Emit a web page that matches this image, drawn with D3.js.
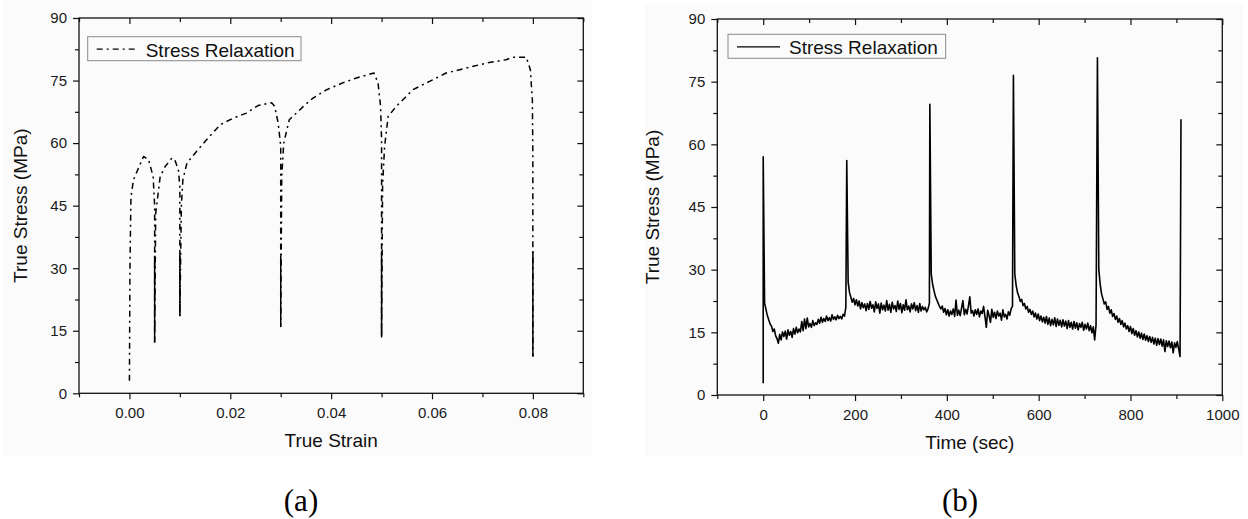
<!DOCTYPE html>
<html>
<head>
<meta charset="utf-8">
<script src="https://cdn.jsdelivr.net/npm/d3@7"></script>
<style>
  body { margin: 0; background: #fff; }
  text { font-family: "Liberation Sans", Arial, sans-serif; }
</style>
</head>
<body>
<svg id="fig" width="1248" height="519"></svg>
<script>
// ---- panel (a): stress vs strain ----
var strainA = [0, 0.0001, 0.0003, 0.0008, 0.0015, 0.0028, 0.0038, 0.0047, 0.005, 0.005,
  0.0052, 0.0061, 0.0071, 0.0084, 0.009, 0.0097, 0.01, 0.01, 0.0103, 0.0106,
  0.0114, 0.0133, 0.0153, 0.018, 0.0206, 0.0232, 0.0255, 0.0282, 0.0288, 0.0295,
  0.03, 0.03, 0.0302, 0.0306, 0.0317, 0.0331, 0.0345, 0.0364, 0.0391, 0.0424,
  0.045, 0.0473, 0.0485, 0.0493, 0.0498, 0.05, 0.05, 0.0502, 0.0506, 0.0513,
  0.0529, 0.0562, 0.0595, 0.0628, 0.0668, 0.0708, 0.0747, 0.076, 0.0787, 0.0795,
  0.0799, 0.08, 0.08]
var stressA = [3, 30, 47, 51.2, 53.2, 56.8, 56, 52, 45, 12.2,
  43, 52, 54.4, 56.4, 56, 53.6, 49.6, 18.5, 45, 51.2,
  55.2, 58, 60.8, 64.4, 66, 67.2, 69, 69.7, 68.8, 64.8,
  59.2, 16, 52, 60, 65.6, 67.2, 68.8, 70.8, 72.8, 74.5,
  75.6, 76.4, 76.8, 74.4, 68.8, 60.8, 13.4, 50, 59.2, 66.4,
  68.8, 72.8, 74.8, 76.8, 78, 79.2, 80, 80.6, 80.6, 77.6,
  70.4, 56, 8.8]
// relaxation holds: strain, lowest stress, top of the densely sampled part
var relaxStrain = [0.005, 0.01, 0.03, 0.05, 0.08]
var relaxLow = [12.2, 18.5, 16, 13.4, 8.8]
var relaxDenseTop = [33, 34, 33, 34, 34]

// ---- panel (b): stress vs time ----
var loadStart = [0, 2.8]          // first point before loading
var holdStart = [0, 182, 363, 545, 728]
var holdPeak = [57, 56.1, 69.6, 76.5, 80.7]
var sampleStep = 3                 // seconds between readings in a hold
var holdStress = [
  [22, 20.5, 19, 18, 17, 16.5, 15.2, 15.8, 14.2, 13.5,
   12.4, 14.5, 13.2, 15.1, 14, 15.3, 13.4, 15.6, 14.3, 15.2,
   13.8, 15.9, 14.6, 16.2, 14.9, 15.8, 15.1, 17.6, 15.4, 18.2,
   15.9, 18.4, 16.3, 17.1, 16.2, 17.8, 16.6, 17.3, 16.9, 18.1,
   17.2, 18.6, 17.4, 18.3, 17.6, 18.9, 17.8, 18.5, 17.7, 19.2,
   18.1, 18.7, 18.0, 19.1, 18.3, 18.8, 18.2, 19.3, 18.9, 21],
  [27, 24.5, 23.4, 22.2, 23.1, 21.6, 22.8, 21.3, 22.5, 20.6,
   22.1, 20.9, 21.8, 20.2, 21.9, 20.5, 22.4, 20.8, 21.6, 19.9,
   22.3, 20.7, 21.8, 19.6, 22.0, 20.4, 21.5, 20.1, 22.6, 20.3,
   21.7, 19.8, 22.2, 20.6, 21.4, 20.0, 22.5, 20.5, 21.9, 19.7,
   21.6, 20.3, 22.8, 20.4, 21.3, 19.9, 21.8, 20.6, 22.1, 20.2,
   21.4, 19.8, 21.9, 20.1, 21.2, 20.4, 21.0, 19.9, 20.6, 22],
  [29, 26.5, 25, 23.6, 22.8, 22.0, 21.2, 20.6, 21.3, 19.8,
   20.7, 19.2, 20.4, 18.9, 20.1, 19.3, 20.6, 18.8, 22.7, 19.1,
   20.3, 19.0, 20.8, 22.6, 19.2, 20.5, 19.4, 21.3, 23.5, 19.6,
   20.2, 18.9, 20.4, 19.3, 20.6, 18.7, 20.1, 19.5, 21.2, 18.8,
   16.2, 20.3, 19.0, 17.4, 20.5, 18.6, 19.8, 18.3, 20.1, 18.9,
   19.6, 17.9, 20.4, 18.7, 19.3, 18.2, 19.9, 19.1, 20.6, 21.3],
  [29, 26.2, 24.5, 23.6, 22.4, 22.9, 21.4, 21.9, 20.6, 21.2,
   19.8, 20.5, 19.3, 20.1, 18.7, 19.6, 18.2, 19.4, 17.8, 18.9,
   17.5, 18.6, 17.2, 18.8, 16.9, 18.4, 16.6, 18.1, 16.8, 18.5,
   16.4, 18.2, 16.7, 17.9, 16.3, 18.0, 16.5, 17.7, 15.9, 17.8,
   16.2, 17.4, 15.8, 17.6, 16.0, 17.3, 15.6, 17.1, 16.2, 17.4,
   15.5, 16.9, 15.8, 17.2, 15.4, 16.6, 14.9, 16.3, 13.2, 16.8],
  [30, 26.5, 24.2, 23.0, 21.8, 22.3, 20.5, 21.2, 19.6, 20.4,
   18.8, 19.5, 18.1, 18.9, 17.4, 18.3, 16.9, 17.8, 16.3, 17.2,
   15.8, 16.6, 15.2, 16.4, 14.7, 15.9, 14.3, 15.4, 13.9, 15.1,
   13.6, 14.8, 13.3, 14.6, 13.1, 14.2, 12.8, 14.0, 12.6, 13.8,
   12.2, 13.6, 11.9, 13.5, 12.1, 13.4, 11.7, 13.2, 10.4, 13.0,
   11.6, 12.9, 11.3, 12.7, 10.1, 12.5, 11.4, 12.8, 11.0, 9.2]
]
var finalPoint = [910, 66]

// ---- ticks ----
var stressTicks = [0, 15, 30, 45, 60, 75, 90]
var stressMinor = [7.5, 22.5, 37.5, 52.5, 67.5, 82.5]
var strainTicks = [0, 0.02, 0.04, 0.06, 0.08]
var strainMinor = [-0.01, 0.01, 0.03, 0.05, 0.07, 0.09]
var timeTicks = [0, 200, 400, 600, 800, 1000]
var timeMinor = [-100, 100, 300, 500, 700, 900]

var svg = d3.select("#fig")

// build panel b series from the hold readings
var seriesB = [loadStart]
holdStart.forEach(function(t0, i){
  seriesB.push([t0, holdPeak[i]])
  holdStress[i].forEach(function(s, k){
    seriesB.push([t0 + sampleStep * (k + 1), s])
  })
})
seriesB.push(finalPoint)

var drawPanel = function(p){
  var g = svg.append("g")

  // faint paper tone of the scanned figure
  g.append("rect").attr("x", p.bg[0]).attr("y", p.bg[1])
    .attr("width", p.bg[2]).attr("height", p.bg[3]).attr("fill", "#fbfbfb")

  var x = d3.scaleLinear().domain(p.xDomain).range([p.left, p.right])
  var y = d3.scaleLinear().domain([0, 90]).range([p.bottom, p.top])

  var addAxis = function(axis, tx, ty){
    var a = g.append("g").attr("transform", "translate(" + tx + "," + ty + ")").call(axis)
    a.select(".domain").remove()
    a.selectAll("line").attr("stroke", "#111").attr("stroke-width", 1.2)
    a.selectAll("text").attr("font-size", 15).attr("fill", "#1a1a1a")
      .style("font-family", "'Liberation Sans', Arial, sans-serif")
    return a
  }
  // bottom / left: outward ticks with labels
  addAxis(d3.axisBottom(x).tickValues(p.xTicks).tickSize(6).tickPadding(8).tickFormat(p.xFormat), 0, p.bottom)
  addAxis(d3.axisBottom(x).tickValues(p.xMinor).tickSize(4).tickFormat(""), 0, p.bottom)
  addAxis(d3.axisLeft(y).tickValues(stressTicks).tickSize(6).tickPadding(6).tickFormat(d3.format("d")), p.left, 0)
  addAxis(d3.axisLeft(y).tickValues(stressMinor).tickSize(4).tickFormat(""), p.left, 0)
  // top / right: inward ticks, no labels
  addAxis(d3.axisBottom(x).tickValues(p.xTicks).tickSize(6).tickFormat(""), 0, p.top)
  addAxis(d3.axisBottom(x).tickValues(p.xMinor).tickSize(4).tickFormat(""), 0, p.top)
  addAxis(d3.axisLeft(y).tickValues(stressTicks).tickSize(6).tickFormat(""), p.right, 0)
  addAxis(d3.axisLeft(y).tickValues(stressMinor).tickSize(4).tickFormat(""), p.right, 0)

  g.append("rect")
    .attr("x", p.left).attr("y", p.top)
    .attr("width", p.right - p.left).attr("height", p.bottom - p.top)
    .attr("fill", "none").attr("stroke", "#111").attr("stroke-width", 1.3)

  // axis titles
  g.append("text").attr("x", (p.left + p.right) / 2).attr("y", p.bottom + 54)
    .attr("text-anchor", "middle").attr("font-size", 19).attr("fill", "#111").text(p.xTitle)
  g.append("text")
    .attr("transform", "translate(" + p.yTitleX + "," + (p.top + p.bottom) / 2 + ") rotate(-90)")
    .attr("text-anchor", "middle").attr("font-size", 19).attr("fill", "#111").text("True Stress (MPa)")

  // data line
  var line = d3.line().x(function(d){ return x(d[0]) }).y(function(d){ return y(d[1]) })
  g.append("path").datum(p.data).attr("d", line)
    .attr("fill", "none").attr("stroke", "#000")
    .attr("stroke-width", p.lineWidth).attr("stroke-dasharray", p.dash)
    .attr("stroke-linejoin", "round")
  if (p.extra) p.extra(g, x, y)

  // legend
  var lb = p.legend
  g.append("rect").attr("x", lb.x).attr("y", lb.y).attr("width", lb.w).attr("height", 24)
    .attr("fill", "none").attr("stroke", "#8a8a8a").attr("stroke-width", 1)
  g.append("line").attr("x1", lb.x + 9).attr("x2", lb.x + 9 + lb.sample)
    .attr("y1", lb.y + 12.5).attr("y2", lb.y + 12.5)
    .attr("stroke", "#000").attr("stroke-width", 1.3).attr("stroke-dasharray", p.dash)
  g.append("text").attr("x", lb.x + lb.textDx).attr("y", lb.y + 20)
    .attr("font-size", 19).attr("fill", "#111").text("Stress Relaxation")

  // panel tag
  g.append("text").attr("x", p.tagX).attr("y", 511).attr("text-anchor", "middle")
    .style("font-family", "'Liberation Serif', 'Times New Roman', serif")
    .attr("font-size", 31).attr("fill", "#000").text(p.tag)
}

drawPanel({
  left: 79, right: 583.3, top: 18, bottom: 393.3,
  bg: [3, 0, 589, 456],
  xDomain: [-0.01, 0.09], xTicks: strainTicks, xMinor: strainMinor,
  xFormat: d3.format(".2f"), xTitle: "True Strain", yTitleX: 27,
  data: strainA.map(function(s, i){ return [s, stressA[i]] }),
  lineWidth: 1.5, dash: "6,4,2,4",
  extra: function(g, x, y){
    // the held parts are densely sampled and print as solid strokes
    relaxStrain.forEach(function(s, i){
      g.append("line").attr("x1", x(s)).attr("x2", x(s))
        .attr("y1", y(relaxLow[i])).attr("y2", y(relaxDenseTop[i]))
        .attr("stroke", "#000").attr("stroke-width", 1.5)
    })
  },
  legend: {x: 87.7, y: 36.7, w: 213.3, sample: 38, textDx: 58},
  tag: "(a)", tagX: 301
})

drawPanel({
  left: 717.3, right: 1222.3, top: 19, bottom: 395,
  bg: [645, 4, 598, 452],
  xDomain: [-100, 1000], xTicks: timeTicks, xMinor: timeMinor,
  xFormat: d3.format("d"), xTitle: "Time (sec)", yTitleX: 658.6,
  data: seriesB,
  lineWidth: 1.6, dash: null,
  legend: {x: 728, y: 34.3, w: 217.7, sample: 43, textDx: 61},
  tag: "(b)", tagX: 960
})
</script>
</body>
</html>
